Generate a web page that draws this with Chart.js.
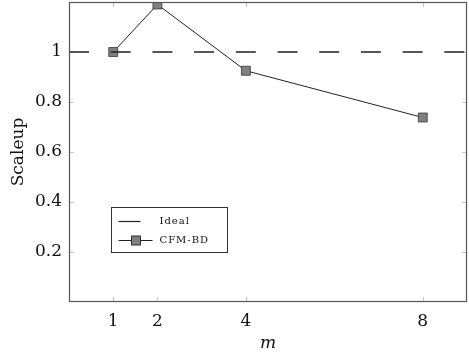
<!DOCTYPE html>
<html>
<head>
<meta charset="utf-8">
<script src="https://cdn.jsdelivr.net/npm/chart.js@4.4.1/dist/chart.umd.min.js"></script>
<style>
  html, body { margin: 0; padding: 0; background: #fff; }
  #wrap { width: 469px; height: 359px; }
</style>
</head>
<body>
<div id="wrap"><canvas id="chart" width="469" height="359"></canvas></div>
<script>
// --- DATA ---
const mValues = [1, 2, 4, 8];
const scaleup = [1, 1.19, 0.925, 0.738];
const idealX = [0, 9];
const idealY = [1, 1];
const xTicks = [1, 2, 4, 8];
const yTicks = [0.2, 0.4, 0.6, 0.8, 1];
const seriesNames = ['Ideal', 'CFM-BD'];

const SERIF = '"DejaVu Serif", serif';

// frame + small inward ticks on all four sides, pgfplots style
const framePlugin = {
    id: 'frame',
    beforeDatasetsDraw(chart) {
        const { ctx, chartArea: a, scales } = chart;
        ctx.save();
        ctx.strokeStyle = '#c8c8c8';
        ctx.lineWidth = 1;
        ctx.beginPath();
        xTicks.forEach(v => {
            const px = Math.round(scales.x.getPixelForValue(v)) + 0.5;
            ctx.moveTo(px, a.bottom); ctx.lineTo(px, a.bottom - 5);
            ctx.moveTo(px, a.top); ctx.lineTo(px, a.top + 5);
        });
        yTicks.forEach(v => {
            const py = Math.round(scales.y.getPixelForValue(v)) + 0.5;
            ctx.moveTo(a.left, py); ctx.lineTo(a.left + 5, py);
            ctx.moveTo(a.right, py); ctx.lineTo(a.right - 5, py);
        });
        ctx.stroke();
        ctx.restore();
    },
    afterDatasetsDraw(chart) {
        const { ctx, chartArea: a } = chart;
        ctx.save();
        ctx.strokeStyle = '#555';
        ctx.lineWidth = 1.2;
        ctx.strokeRect(a.left + 0.5, a.top + 0.5, a.right - a.left - 1, a.bottom - a.top - 1);

        // legend box
        const bx = a.left + 42.5, by = a.top + 205.5;
        ctx.fillStyle = '#fff';
        ctx.fillRect(bx, by, 116, 45);
        ctx.strokeStyle = '#333';
        ctx.lineWidth = 1;
        ctx.strokeRect(bx, by, 116, 45);

        ctx.strokeStyle = '#222';
        ctx.lineWidth = 1.2;
        ctx.beginPath();
        ctx.moveTo(bx + 7, by + 14); ctx.lineTo(bx + 29, by + 14);
        ctx.stroke();

        ctx.lineWidth = 1;
        ctx.beginPath();
        ctx.moveTo(bx + 7, by + 33); ctx.lineTo(bx + 41, by + 33);
        ctx.stroke();
        ctx.fillStyle = '#808080';
        ctx.fillRect(bx + 20, by + 28.5, 9, 9);
        ctx.strokeStyle = '#333';
        ctx.strokeRect(bx + 20, by + 28.5, 9, 9);

        ctx.fillStyle = '#111';
        ctx.font = '10px ' + SERIF;
        ctx.letterSpacing = '1px';
        ctx.textBaseline = 'middle';
        ctx.textAlign = 'left';
        ctx.fillText(seriesNames[0], bx + 48, by + 14);
        ctx.fillText(seriesNames[1], bx + 48, by + 33);
        ctx.restore();
    }
};

new Chart(document.getElementById('chart'), {
    type: 'line',
    data: {
        datasets: [
            {
                label: seriesNames[0],
                data: idealX.map((x, i) => ({ x, y: idealY[i] })),
                borderColor: '#222',
                borderWidth: 1.3,
                borderDash: [20, 21.7],
                pointRadius: 0
            },
            {
                label: seriesNames[1],
                data: mValues.map((x, i) => ({ x, y: scaleup[i] })),
                borderColor: '#222',
                borderWidth: 1,
                pointStyle: 'rect',
                pointRadius: 6.3,
                pointBackgroundColor: '#808080',
                pointBorderColor: '#333',
                pointBorderWidth: 0.8,
                tension: 0
            }
        ]
    },
    options: {
        responsive: false,
        animation: false,
        devicePixelRatio: 1,
        layout: { autoPadding: false, padding: { top: 2, right: 2, left: 0, bottom: 0 } },
        plugins: { legend: { display: false }, tooltip: { enabled: false } },
        scales: {
            x: {
                type: 'linear',
                min: 0, max: 9,
                afterBuildTicks: s => { s.ticks = xTicks.map(v => ({ value: v })); },
                afterFit: s => { s.height = 57; s.paddingLeft = 0; s.paddingRight = 0; },
                grid: { display: false, drawTicks: false },
                border: { display: false },
                ticks: { color: '#111', font: { family: SERIF, size: 17 }, padding: 9, maxRotation: 0, autoSkip: false },
                title: { display: true, text: 'm', color: '#111', font: { family: SERIF, size: 17, style: 'italic' }, padding: { top: 0, bottom: 5 } }
            },
            y: {
                min: 0, max: 1.2,
                afterBuildTicks: s => { s.ticks = yTicks.map(v => ({ value: v })); },
                afterFit: s => { s.width = 69; s.paddingTop = 0; s.paddingBottom = 0; },
                grid: { display: false, drawTicks: false },
                border: { display: false },
                ticks: { color: '#111', font: { family: SERIF, size: 17 }, padding: 7, callback: v => String(v) },
                title: { display: true, text: 'Scaleup', color: '#111', font: { family: SERIF, size: 17 }, padding: { top: 8, bottom: 0 } }
            }
        }
    },
    plugins: [framePlugin]
});
</script>
</body>
</html>
